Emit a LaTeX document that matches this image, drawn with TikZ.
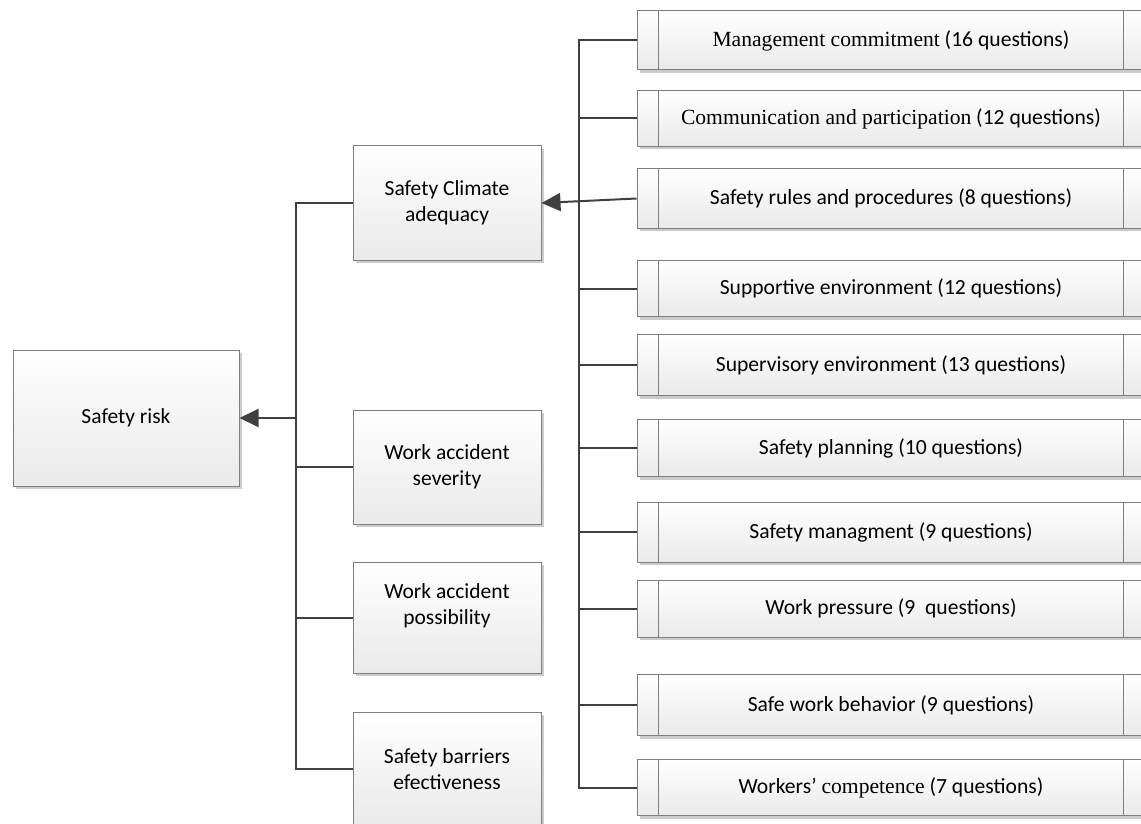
\documentclass[tikz,border=0pt]{standalone}
\usepackage{fontspec}
\setmainfont{Carlito}
\newfontfamily\serifb{Liberation Serif}
\usetikzlibrary{arrows.meta,shadows,calc}
\definecolor{linec}{HTML}{404040}
\definecolor{boxborder}{HTML}{7F7F7F}
\definecolor{boxbot}{HTML}{EAEAEA}
\newcommand\subdivs[1]{%
  \draw[divider] ([xshift=22pt]#1.north west) -- ([xshift=22pt]#1.south west);
  \draw[divider] ([xshift=-22pt]#1.north east) -- ([xshift=-22pt]#1.south east);}
\begin{document}
\begin{tikzpicture}[x=1pt,y=-1pt,
  box/.style={draw=boxborder, line width=1pt, top color=white, bottom color=boxbot,
    drop shadow={shadow xshift=3pt,shadow yshift=-3pt,fill=black,opacity=0.2},
    align=center, inner sep=0pt},
  lfont/.style={font=\fontsize{21.5}{26}\selectfont},
  lbox/.style={box, lfont, minimum width=188pt, minimum height=114pt},
  rbox/.style={box, minimum width=508pt, font=\fontsize{21.6}{26}\selectfont},
  conn/.style={draw=linec, line width=2pt},
  arr/.style={conn, -{Triangle[length=19pt,width=18pt]}},
  divider/.style={draw=boxborder, line width=1pt}]
\path[use as bounding box] (0,0) rectangle (1141,824);
\clip (0,0) rectangle (1141,824);

% left part
\node[box, lfont, minimum width=226pt, minimum height=136pt] (risk) at (126,418) {Safety risk};
\node[lbox] (sca) at (447,203) {Safety Climate\\adequacy};
\node[lbox] (was) at (447,467) {Work accident\\severity};
\node[lbox, minimum height=111pt] (wap) at (447,617.5) {};
\node[lfont, align=center, inner sep=0pt] (wapt) at (447,606) {Work accident\\possibility};
\node[lbox] (sbe) at (447,769) {Safety barriers\\efectiveness};

% right column
\node[rbox, minimum height=59pt] (r1) at (891,40.5) {{\serifb Management commitment} (16 questions)};
\node[rbox, minimum height=56pt] (r2) at (891,118.5) {{\serifb Communication and participation} (12 questions)};
\node[rbox, minimum height=59pt] (r3) at (891,198.5) {Safety rules and procedures (8 questions)};
\node[rbox, minimum height=56pt] (r4) at (891,288.5) {Supportive environment (12 questions)};
\node[rbox, minimum height=61pt] (r5) at (891,365) {Supervisory environment (13 questions)};
\node[rbox, minimum height=57pt] (r6) at (891,448) {Safety planning (10 questions)};
\node[rbox, minimum height=60pt] (r7) at (891,532) {Safety managment (9 questions)};
\node[rbox, minimum height=57pt] (r8) at (891,608.5) {Work pressure (9\ \ questions)};
\node[rbox, minimum height=61pt] (r9) at (891,705) {Safe work behavior (9 questions)};
\node[rbox, minimum height=56pt] (r10) at (891,787.5) {Workers’ {\serifb competence} (7 questions)};
\foreach \n in {r1,r2,r3,r4,r5,r6,r7,r8,r9,r10} {\subdivs{\n}}

% connectors right
\coordinate (rtx) at (579,0);
\draw[conn] (r1.west) -- (r1.west -| rtx) -- (r10.west -| rtx) -- (r10.west);
\foreach \n in {r2,r4,r5,r6,r7,r8,r9} {\draw[conn] (\n.west) -- (\n.west -| rtx);}
\draw[arr] (r3.west) -- (sca.east);

% connectors left
\coordinate (ltx) at (296,0);
\draw[conn] (sca.west) -- (sca.west -| ltx) -- (sbe.west -| ltx) -- (sbe.west);
\draw[conn] (was.west) -- (was.west -| ltx);
\draw[conn] (wap.west) -- (wap.west -| ltx);
\draw[arr] (risk.east -| ltx) -- (risk.east);
\end{tikzpicture}
\end{document}
